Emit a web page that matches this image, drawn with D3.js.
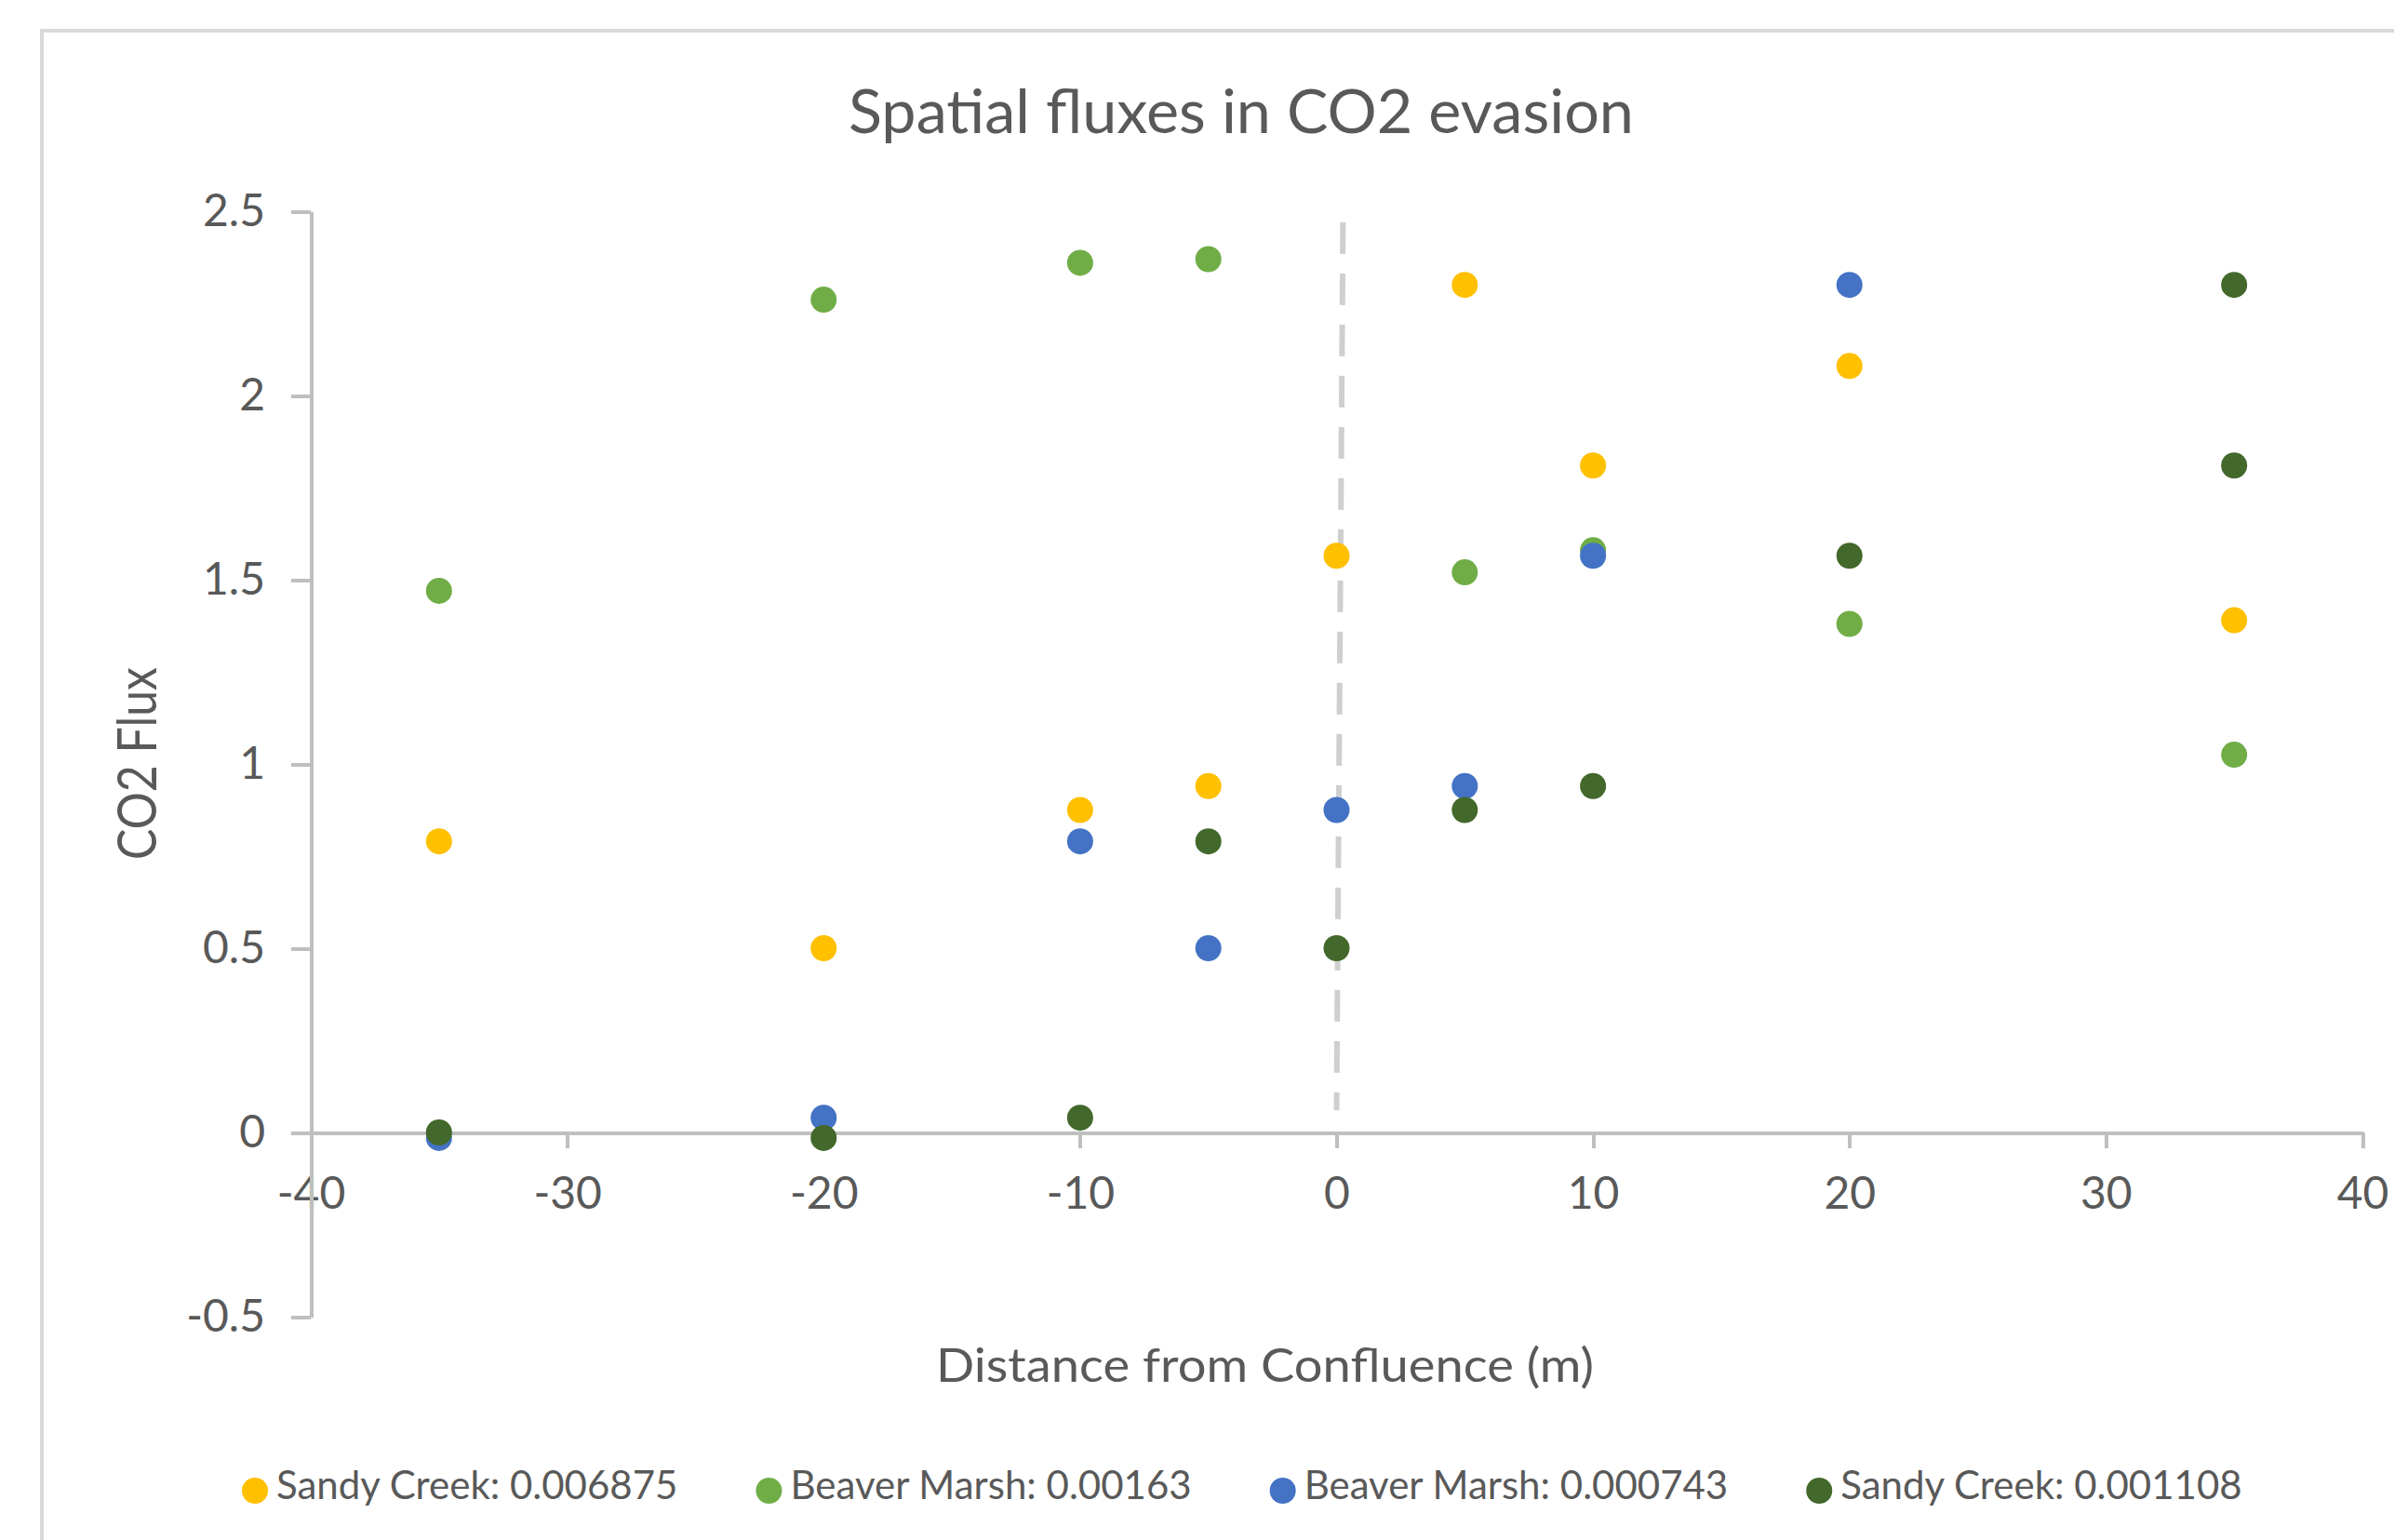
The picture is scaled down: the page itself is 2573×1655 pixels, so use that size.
<!DOCTYPE html>
<meta charset="utf-8">
<style>

body
{
  margin: 0;
  background: #fff;
}

text
{
  font-family: Lato, "Open Sans", sans-serif;
  fill: #595959;
}

.axis path,
.axis line
{
  fill: none;
  stroke: #bfbfbf;
  stroke-width: 4px;
  shape-rendering: crispEdges;
}

.axis text
{
  font-size: 48px;
}

</style>
<svg width="2573" height="1655"></svg>
<script src="https://d3js.org/d3.v7.min.js"></script>
<script>

// values
var seriesNames = ["Sandy Creek: 0.006875", "Beaver Marsh: 0.00163", "Beaver Marsh: 0.000743", "Sandy Creek: 0.001108"];
var seriesColors = ["#ffc000", "#70ad47", "#4472c4", "#43682b"];

var sandyCreekAx = [-35, -20, -10, -5, 0, 5, 10, 20, 35];
var sandyCreekAy = [0.79, 0.5, 0.875, 0.94, 1.565, 2.3, 1.81, 2.08, 1.39];

var beaverMarshAx = [-35, -20, -10, -5, 5, 10, 20, 35];
var beaverMarshAy = [1.47, 2.26, 2.36, 2.37, 1.52, 1.58, 1.38, 1.025];

var beaverMarshBx = [-35, -20, -10, -5, 0, 5, 10, 20];
var beaverMarshBy = [-0.015, 0.04, 0.79, 0.5, 0.875, 0.94, 1.565, 2.3];

var sandyCreekBx = [-35, -20, -10, -5, 0, 5, 10, 20, 35, 35];
var sandyCreekBy = [0, -0.015, 0.04, 0.79, 0.5, 0.875, 0.94, 1.565, 2.3, 1.81];

var xTicks = [-40, -30, -20, -10, 0, 10, 20, 30, 40];
var yTicks = [-0.5, 0, 0.5, 1, 1.5, 2, 2.5];

// dashed marker at the confluence
var confluenceLine = { x1: 0.25, y1: 2.47, x2: 0, y2: 0.06 };

var svg = d3.select("svg");

var x = d3.scaleLinear().domain([-40, 40]).range([334, 2539]);
var y = d3.scaleLinear().domain([-0.5, 2.5]).range([1415, 227]);

var series = [
  { name: seriesNames[0], color: seriesColors[0], xs: sandyCreekAx, ys: sandyCreekAy },
  { name: seriesNames[1], color: seriesColors[1], xs: beaverMarshAx, ys: beaverMarshAy },
  { name: seriesNames[2], color: seriesColors[2], xs: beaverMarshBx, ys: beaverMarshBy },
  { name: seriesNames[3], color: seriesColors[3], xs: sandyCreekBx, ys: sandyCreekBy }
];

// chart frame (runs off the right and bottom edge)
svg.append("rect")
    .attr("x", 45)
    .attr("y", 33)
    .attr("width", 2640)
    .attr("height", 1700)
    .attr("fill", "none")
    .attr("stroke", "#d9d9d9")
    .attr("stroke-width", 4);

svg.append("text")
    .attr("x", 912)
    .attr("y", 143)
    .attr("textLength", 844)
    .attr("lengthAdjust", "spacingAndGlyphs")
    .style("font-size", "66px")
    .text("Spatial fluxes in CO2 evasion");

svg.append("g")
    .attr("class", "axis")
    .attr("transform", "translate(0," + y(0) + ")")
    .call(d3.axisBottom(x)
        .tickValues(xTicks)
        .tickSize(17)
        .tickSizeOuter(0)
        .tickPadding(31)
        .tickFormat(function(d) { return String(d); }));

svg.append("g")
    .attr("class", "axis")
    .attr("transform", "translate(" + x(-40) + ",0)")
    .call(d3.axisLeft(y)
        .tickValues(yTicks)
        .tickSize(21)
        .tickSizeOuter(0)
        .tickPadding(28)
        .tickFormat(function(d) { return String(d); }));

svg.append("line")
    .attr("x1", x(confluenceLine.x1))
    .attr("y1", y(confluenceLine.y1))
    .attr("x2", x(confluenceLine.x2))
    .attr("y2", y(confluenceLine.y2))
    .attr("stroke", "#cfcfcf")
    .attr("stroke-width", 6)
    .attr("stroke-dasharray", "34,21");

var groups = svg.append("g")
  .selectAll("g")
  .data(series)
  .enter().append("g")
    .attr("fill", function(d) { return d.color; });

groups.selectAll("circle")
  .data(function(d) { return d.xs.map(function(v, i) { return [v, d.ys[i]]; }); })
  .enter().append("circle")
    .attr("cx", function(d) { return x(d[0]); })
    .attr("cy", function(d) { return y(d[1]); })
    .attr("r", 14);

svg.append("text")
    .attr("x", 1006)
    .attr("y", 1485)
    .attr("textLength", 707)
    .attr("lengthAdjust", "spacingAndGlyphs")
    .style("font-size", "50px")
    .text("Distance from Confluence (m)");

svg.append("text")
    .attr("transform", "translate(168,924) rotate(-90)")
    .attr("textLength", 207)
    .attr("lengthAdjust", "spacingAndGlyphs")
    .style("font-size", "58px")
    .text("CO2 Flux");

// legend laid out left to right
var legend = svg.append("g").attr("transform", "translate(274,1602)");
var cursor = 0;
series.forEach(function(s) {
  var item = legend.append("g").attr("transform", "translate(" + cursor + ",0)");
  item.append("circle").attr("r", 14).attr("fill", s.color);
  var label = item.append("text")
      .attr("x", 23)
      .attr("y", 9)
      .style("font-size", "42px")
      .text(s.name);
  cursor += 23 + label.node().getComputedTextLength() + 98;
});

</script>
